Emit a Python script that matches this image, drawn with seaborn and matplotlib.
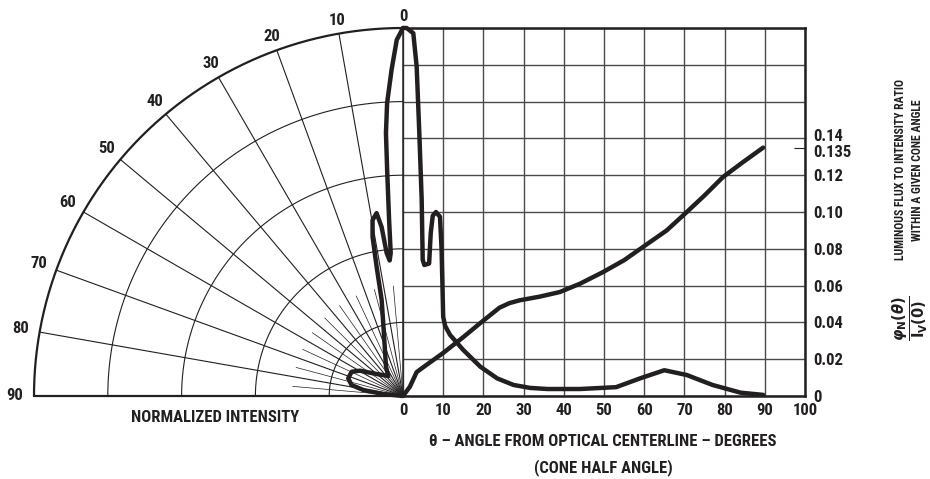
import numpy as np
import pandas as pd
import matplotlib
import matplotlib.pyplot as plt
import seaborn as sns
from matplotlib import font_manager
from matplotlib.transforms import ScaledTranslation

# =========================
# DATA
# =========================

# polar radiation pattern (left half): angle from centerline, normalized intensity
polar_angle = [0, 1.0, 2.0, 3.1, 3.7, 4.0, 4.5, 4.9, 5.6, 6.5, 7.2, 8.2, 9.8, 10.8,
               11.5, 12.5, 16.9, 30.1, 36.3, 50.1, 59.5, 64.7, 72.1, 77.9, 81.4, 84.2, 90]
polar_intensity = [1.0, 0.968, 0.887, 0.797, 0.716, 0.616, 0.48, 0.39, 0.37, 0.391, 0.463,
                   0.502, 0.485, 0.44, 0.359, 0.267, 0.178, 0.092, 0.0675, 0.0932, 0.1356,
                   0.154, 0.156, 0.1426, 0.109, 0.0538, 0.0]

# same pattern drawn on the cartesian grid (right half)
grid_angle = [0, 0.9, 2.56, 3.4, 4.06, 4.65, 4.9, 5.3, 6.5, 6.9, 7.4, 8.2, 9.2, 9.6,
              10.0, 10.5, 11.7, 15, 19.2, 23.4, 27.5, 31.6, 36, 44, 53, 59, 65, 70.6,
              77, 84, 89.6]
grid_intensity = [1.0, 1.0, 0.986, 0.895, 0.714, 0.533, 0.37, 0.356, 0.36, 0.443, 0.49,
                  0.50, 0.487, 0.397, 0.215, 0.19, 0.166, 0.125, 0.08, 0.048, 0.03, 0.022,
                  0.019, 0.019, 0.024, 0.048, 0.07, 0.057, 0.03, 0.009, 0.003]

# luminous flux to intensity ratio vs cone half angle
flux_angle = [0, 1.7, 3.4, 5.9, 10, 15, 19.2, 24, 26.5, 29, 34, 39, 44, 49.8, 55, 59.7,
              65.6, 70.6, 75, 79.6, 84.5, 89.6]
flux_ratio = [0, 0.005, 0.013, 0.017, 0.0234, 0.032, 0.0396, 0.048, 0.0505, 0.052, 0.054,
              0.0565, 0.061, 0.0674, 0.0738, 0.081, 0.090, 0.100, 0.109, 0.119, 0.127,
              0.135]

polar_ticks = list(range(0, 100, 10))
x_ticks = list(range(0, 101, 10))
y_ticks = [0, 0.02, 0.04, 0.06, 0.08, 0.10, 0.12, 0.14, 0.16, 0.18, 0.20]
y_labels = ["0", "0.02", "0.04", "0.06", "0.08", "0.10", "0.12", "0.14", "", "", ""]

# =========================
# STYLE
# =========================

sns.set_theme(style="white")
installed = {f.name for f in font_manager.fontManager.ttflist}
family = next(n for n in ["Liberation Sans Narrow", "Roboto Condensed",
                          "DejaVu Sans"] if n in installed)
plt.rcParams["font.family"] = [family, "DejaVu Sans"]
plt.rcParams["font.weight"] = "bold"

INK = "#231f20"
LW = 3.2
W, H = 930, 479


def px_box(x0, y0, x1, y1):
    return [x0 / W, 1 - y1 / H, (x1 - x0) / W, (y1 - y0) / H]


fig = plt.figure(figsize=(9.3, 4.79), dpi=100)

# =========================
# LEFT: POLAR QUARTER
# =========================

ax_p = fig.add_axes(px_box(34, 28, 403, 396))
ax_p.set_xlim(-1, 0)
ax_p.set_ylim(0, 1)
ax_p.axis("off")

t = np.radians(np.linspace(0, 90, 300))
for rr in [0.2, 0.4, 0.6, 0.8]:
    ax_p.plot(-rr * np.sin(t), rr * np.cos(t), color=INK, lw=0.8)
ax_p.plot(-np.sin(t), np.cos(t), color=INK, lw=1.6, clip_on=False)

for a in range(10, 90, 10):
    ar = np.radians(a)
    ax_p.plot([0, -np.sin(ar)], [0, np.cos(ar)], color=INK, lw=0.8)
for a in range(5, 90, 10):
    ar = np.radians(a)
    ax_p.plot([0, -0.3 * np.sin(ar)], [0, 0.3 * np.cos(ar)], color=INK, lw=0.5)
ax_p.plot([-1, 0], [0, 0], color=INK, lw=1.6, clip_on=False)

for a in polar_ticks:
    ar = np.radians(a)
    rl = 1.032 + 0.02 * np.sin(ar)
    ax_p.text(-rl * np.sin(ar), rl * np.cos(ar), str(a), ha="center", va="center",
              fontsize=12, fontweight="bold", color=INK)

phi = np.radians(polar_angle)
left = pd.DataFrame({
    "x": -np.array(polar_intensity) * np.sin(phi),
    "y": np.array(polar_intensity) * np.cos(phi),
})
sns.lineplot(data=left, x="x", y="y", sort=False, estimator=None, ax=ax_p,
             color=INK, lw=LW, clip_on=False, solid_joinstyle="round",
             solid_capstyle="round")
ax_p.set_xlabel("")
ax_p.set_ylabel("")

# =========================
# RIGHT: FLUX RATIO GRID
# =========================

ax_r = fig.add_axes(px_box(403, 28, 805, 396))
ax_r.set_xlim(0, 100)
ax_r.set_ylim(0, 0.2)
ax_r.set_xticks(x_ticks)
ax_r.set_xticklabels([str(v) for v in x_ticks])
ax_r.set_yticks(y_ticks)
ax_r.set_yticklabels(y_labels)
ax_r.set_yticks([0.135], minor=True)
ax_r.set_yticklabels(["0.135"], minor=True)
ax_r.yaxis.tick_right()
ax_r.grid(True, which="major", color="#4a4a4a", lw=1.0)
ax_r.tick_params(which="major", length=0, labelsize=12, colors=INK)
ax_r.tick_params(axis="x", pad=5)
ax_r.tick_params(axis="y", pad=6)
ax_r.tick_params(axis="y", which="minor", direction="in", length=8, width=0.8,
                 color=INK, labelsize=12, labelcolor=INK, pad=6)
for lab in ax_r.get_xticklabels() + ax_r.get_yticklabels(which="both"):
    lab.set_fontweight("bold")

# nudge the crowded 0.14 / 0.135 labels apart like the original
ax_r.yaxis.get_major_ticks()[7].label2.set_transform(
    ax_r.yaxis.get_major_ticks()[7].label2.get_transform()
    + ScaledTranslation(0, 3 / 100, fig.dpi_scale_trans))
ax_r.yaxis.get_minor_ticks()[0].label2.set_transform(
    ax_r.yaxis.get_minor_ticks()[0].label2.get_transform()
    + ScaledTranslation(0, -3 / 100, fig.dpi_scale_trans))

for side in ["top", "right", "bottom"]:
    ax_r.spines[side].set_color(INK)
    ax_r.spines[side].set_linewidth(1.8)
ax_r.spines["left"].set_color(INK)
ax_r.spines["left"].set_linewidth(1.1)

sns.lineplot(x=flux_angle, y=flux_ratio, ax=ax_r, color=INK, lw=LW,
             solid_joinstyle="round", solid_capstyle="round")

ax_i = fig.add_axes(px_box(403, 28, 805, 396), frameon=False)
ax_i.set_xlim(0, 100)
ax_i.set_ylim(0, 1)
ax_i.axis("off")
sns.lineplot(x=grid_angle, y=grid_intensity, sort=False, estimator=None, ax=ax_i,
             color=INK, lw=LW, clip_on=False, solid_joinstyle="round",
             solid_capstyle="round")

# =========================
# TEXT
# =========================

fig.text(215 / W, 1 - 418 / H, "NORMALIZED INTENSITY", ha="center", va="center",
         fontsize=12, fontweight="bold", color=INK)
fig.text(603 / W, 1 - 441 / H, "θ – ANGLE FROM OPTICAL CENTERLINE – DEGREES",
         ha="center", va="center", fontsize=12, fontweight="bold", color=INK)
fig.text(603 / W, 1 - 468 / H, "(CONE HALF ANGLE)", ha="center", va="center",
         fontsize=12, fontweight="bold", color=INK)
fig.text(909 / W, 1 - 170 / H, "LUMINOUS FLUX TO INTENSITY RATIO\nWITHIN A GIVEN CONE ANGLE",
         ha="center", va="center", rotation=90, multialignment="center",
         fontsize=8.5, fontweight="bold", color=INK, linespacing=1.35)
fig.text(910 / W, 1 - 318 / H, r"$\frac{\varphi_{\mathbf{N}}(\theta)}{\mathbf{I_V(0)}}$",
         ha="center", va="center", rotation=90, fontsize=15, color=INK)

fig.savefig("out.png", dpi=100)
